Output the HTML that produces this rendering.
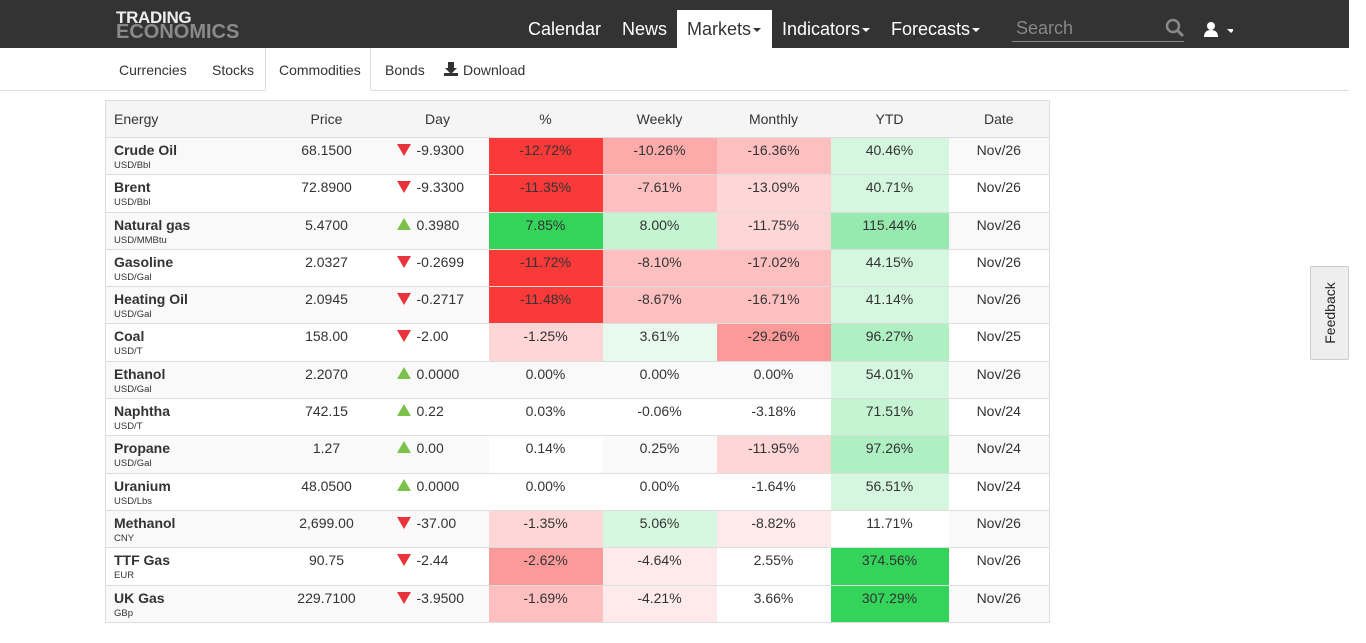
<!DOCTYPE html>
<html><head><meta charset="utf-8"><style>
*{box-sizing:border-box;margin:0;padding:0}
body{width:1366px;height:643px;overflow:hidden;background:#fff;font-family:"Liberation Sans",Arial,sans-serif;color:#333;position:relative}
.nav{position:absolute;left:0;top:0;width:1349px;height:48px;background:#333}
.logo1{position:absolute;left:116px;top:8px;color:#eee;font-weight:bold;font-size:17px;letter-spacing:-0.3px}
.logo2{position:absolute;left:116px;top:21px;color:#8a8a8a;font-weight:bold;font-size:20px;letter-spacing:0px}
.ni{position:absolute;top:19px;color:#fff;font-size:18px}
.mk{position:absolute;left:677px;top:10px;width:95px;height:38px;background:#fff}
.car{display:inline-block;width:0;height:0;border-left:4px solid transparent;border-right:4px solid transparent;border-top:4px solid currentColor;vertical-align:middle;margin-left:2px}
.search{position:absolute;left:1012px;top:18px;width:172px;height:24px;border-bottom:1px solid #888;color:#888;font-size:18px;padding-left:4px}
.sub{position:absolute;left:0;top:48px;width:1349px;height:43px;border-bottom:1px solid #ddd}
.si{position:absolute;top:14px;font-size:14px;color:#333}
.tab{position:absolute;left:265px;top:0;width:106px;height:43px;border:1px solid #ddd;border-top:none;border-bottom:1px solid #fff;background:#fff}
table{position:absolute;left:105px;top:100px;border-collapse:collapse;table-layout:fixed;width:944px;border:1px solid #ddd;font-size:14px}
td,th{border-top:1px solid #ddd;vertical-align:top;padding-top:4px;text-align:center;font-weight:normal;height:37.3px}
th{background:#f5f5f5;padding-top:10px;height:37px}
tr:nth-child(even) td{background:#f9f9f9}
td.n{text-align:left;padding-left:8px}
td.n b{font-size:14px;display:block;line-height:16px}
td.n small{font-size:9.5px;display:block;margin-top:2px}
td.d{text-align:left;padding-left:10px}
.dn{display:inline-block;width:0;height:0;border-left:7px solid transparent;border-right:7px solid transparent;border-top:12px solid #e8333a;margin-right:6px;vertical-align:-1px}
.up{display:inline-block;width:0;height:0;border-left:7px solid transparent;border-right:7px solid transparent;border-bottom:12px solid #7cc24a;margin-right:6px;vertical-align:0px}
tr td.r1{background:#fa3939}tr td.r2{background:#fc9a9a}tr td.r2b{background:#fdaaaa}tr td.r3{background:#fdbfbf}tr td.r4{background:#fed6d6}tr td.r5{background:#feeaea}
tr td.g1{background:#34d35a}tr td.g2{background:#97eaaf}tr td.g3{background:#aff0c2}tr td.g4{background:#c4f4d1}tr td.g5{background:#d6f7df}tr td.g6{background:#e8faed}
tr td.w{background:#fff}
.fb{position:absolute;left:1310px;top:266px;width:39px;height:94px;background:#eee;border:1px solid #ccc;border-radius:2px}
.fb span{position:absolute;left:50%;top:50%;transform:translate(-50%,-50%) rotate(-90deg);font-size:14px;white-space:nowrap;color:#222}
</style></head><body>
<div class="nav">
<div class="logo1">TRADING</div><div class="logo2">ECONOMICS</div>
<div class="ni" style="left:528px">Calendar</div>
<div class="ni" style="left:622px">News</div>
<div class="mk"></div>
<div class="ni" style="left:687px;color:#333">Markets<span class="car"></span></div>
<div class="ni" style="left:782px">Indicators<span class="car"></span></div>
<div class="ni" style="left:891px">Forecasts<span class="car"></span></div>
<div class="search">Search</div>
<svg style="position:absolute;left:1165px;top:18px" width="20" height="20"><circle cx="8" cy="8" r="6" fill="none" stroke="#888" stroke-width="2.5"/><line x1="12" y1="12" x2="18" y2="18" stroke="#888" stroke-width="3"/></svg>
<svg style="position:absolute;left:1203px;top:21px" width="30" height="16"><circle cx="8" cy="5" r="4" fill="#fff"/><path d="M1 16 Q1 9 8 9 Q15 9 15 16Z" fill="#fff"/><path d="M24 8 L32 8 L28 12Z" fill="#fff"/></svg>
</div>
<div class="sub">
<div class="tab"></div>
<div class="si" style="left:119px">Currencies</div>
<div class="si" style="left:212px">Stocks</div>
<div class="si" style="left:279px">Commodities</div>
<div class="si" style="left:385px">Bonds</div>
<svg style="position:absolute;left:444px;top:14px" width="14" height="14"><path d="M4 0h6v6h3l-6 6-6-6h3z" fill="#333"/><rect x="0" y="11" width="14" height="3" fill="#333"/></svg>
<div class="si" style="left:463px">Download</div>
</div>
<table>
<colgroup><col style="width:161px"><col style="width:120px"><col style="width:102px"><col style="width:114px"><col style="width:114px"><col style="width:114px"><col style="width:118px"><col style="width:101px"></colgroup>
<tr><th style="text-align:left;padding-left:8px">Energy</th><th>Price</th><th>Day</th><th>%</th><th>Weekly</th><th>Monthly</th><th>YTD</th><th>Date</th></tr>
<tr><td class="n"><b>Crude Oil</b><small>USD/Bbl</small></td><td>68.1500</td><td class="d"><span class="dn"></span>-9.9300</td><td class="r1">-12.72%</td><td class="r2b">-10.26%</td><td class="r3">-16.36%</td><td class="g5">40.46%</td><td>Nov/26</td></tr>
<tr><td class="n"><b>Brent</b><small>USD/Bbl</small></td><td>72.8900</td><td class="d"><span class="dn"></span>-9.3300</td><td class="r1">-11.35%</td><td class="r3">-7.61%</td><td class="r4">-13.09%</td><td class="g5">40.71%</td><td>Nov/26</td></tr>
<tr><td class="n"><b>Natural gas</b><small>USD/MMBtu</small></td><td>5.4700</td><td class="d"><span class="up"></span>0.3980</td><td class="g1">7.85%</td><td class="g4">8.00%</td><td class="r4">-11.75%</td><td class="g2">115.44%</td><td>Nov/26</td></tr>
<tr><td class="n"><b>Gasoline</b><small>USD/Gal</small></td><td>2.0327</td><td class="d"><span class="dn"></span>-0.2699</td><td class="r1">-11.72%</td><td class="r3">-8.10%</td><td class="r3">-17.02%</td><td class="g5">44.15%</td><td>Nov/26</td></tr>
<tr><td class="n"><b>Heating Oil</b><small>USD/Gal</small></td><td>2.0945</td><td class="d"><span class="dn"></span>-0.2717</td><td class="r1">-11.48%</td><td class="r3">-8.67%</td><td class="r3">-16.71%</td><td class="g5">41.14%</td><td>Nov/26</td></tr>
<tr><td class="n"><b>Coal</b><small>USD/T</small></td><td>158.00</td><td class="d"><span class="dn"></span>-2.00</td><td class="r4">-1.25%</td><td class="g6">3.61%</td><td class="r2">-29.26%</td><td class="g3">96.27%</td><td>Nov/25</td></tr>
<tr><td class="n"><b>Ethanol</b><small>USD/Gal</small></td><td>2.2070</td><td class="d"><span class="up"></span>0.0000</td><td>0.00%</td><td>0.00%</td><td>0.00%</td><td class="g5">54.01%</td><td>Nov/26</td></tr>
<tr><td class="n"><b>Naphtha</b><small>USD/T</small></td><td>742.15</td><td class="d"><span class="up"></span>0.22</td><td>0.03%</td><td>-0.06%</td><td>-3.18%</td><td class="g4">71.51%</td><td>Nov/24</td></tr>
<tr><td class="n"><b>Propane</b><small>USD/Gal</small></td><td>1.27</td><td class="d"><span class="up"></span>0.00</td><td class="w">0.14%</td><td>0.25%</td><td class="r4">-11.95%</td><td class="g3">97.26%</td><td>Nov/24</td></tr>
<tr><td class="n"><b>Uranium</b><small>USD/Lbs</small></td><td>48.0500</td><td class="d"><span class="up"></span>0.0000</td><td>0.00%</td><td>0.00%</td><td>-1.64%</td><td class="g5">56.51%</td><td>Nov/24</td></tr>
<tr><td class="n"><b>Methanol</b><small>CNY</small></td><td>2,699.00</td><td class="d"><span class="dn"></span>-37.00</td><td class="r4">-1.35%</td><td class="g5">5.06%</td><td class="r5">-8.82%</td><td class="w">11.71%</td><td>Nov/26</td></tr>
<tr><td class="n"><b>TTF Gas</b><small>EUR</small></td><td>90.75</td><td class="d"><span class="dn"></span>-2.44</td><td class="r2">-2.62%</td><td class="r5">-4.64%</td><td>2.55%</td><td class="g1">374.56%</td><td>Nov/26</td></tr>
<tr><td class="n"><b>UK Gas</b><small>GBp</small></td><td>229.7100</td><td class="d"><span class="dn"></span>-3.9500</td><td class="r3">-1.69%</td><td class="r5">-4.21%</td><td class="w">3.66%</td><td class="g1">307.29%</td><td>Nov/26</td></tr>
</table>
<div class="fb"><span>Feedback</span></div>
</body></html>
